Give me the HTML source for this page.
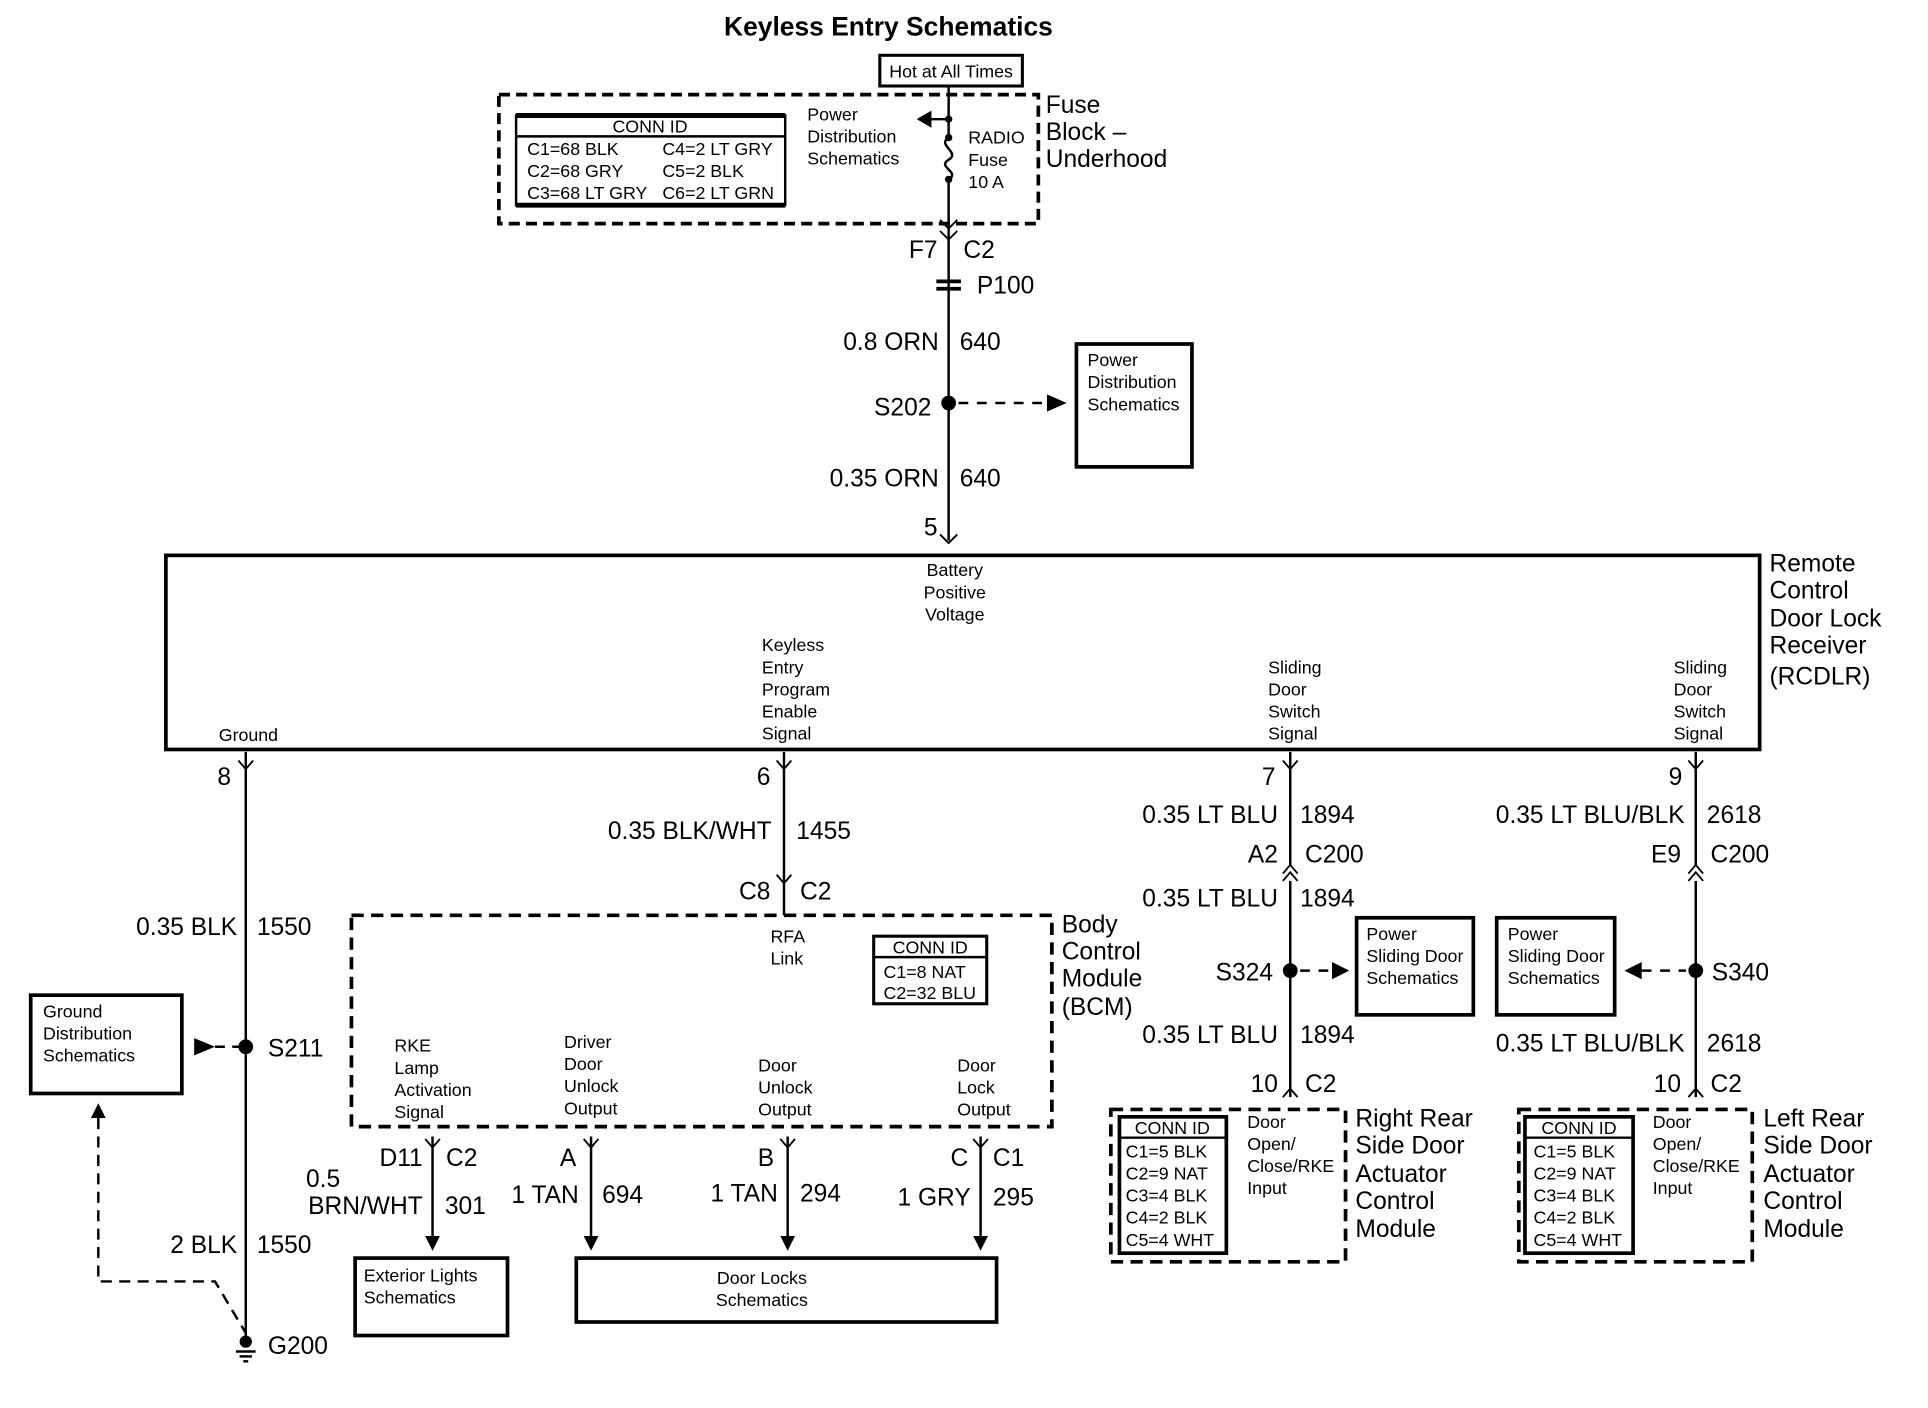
<!DOCTYPE html>
<html><head><meta charset="utf-8"><style>
html,body{margin:0;padding:0;background:#fff;}
svg{display:block;}
text{font-family:"Liberation Sans",Arial,sans-serif;fill:#000;}
.s{font-size:14.5px;}
.w{font-size:20px;}
.b{font-size:20px;}
.r{text-anchor:end;}
.c{text-anchor:middle;}
</style></head><body>
<svg width="1928" height="1408" viewBox="0 0 1569 1146" preserveAspectRatio="none" xmlns="http://www.w3.org/2000/svg">
<text x="723" y="29" class="c" style="font-size:21.5px;font-weight:bold">Keyless Entry Schematics</text>
<g stroke="#000" fill="none">
<rect x="716" y="45" width="116" height="25" stroke-width="2.5"/>
<rect x="406" y="77" width="439" height="105" stroke-width="3" stroke-dasharray="9,5"/>
<rect x="420" y="94" width="219" height="73" stroke-width="2"/>
<line x1="420" y1="94" x2="639" y2="94" stroke-width="4"/>
<line x1="420" y1="167" x2="639" y2="167" stroke-width="4"/>
<line x1="420" y1="111" x2="639" y2="111" stroke-width="2"/>
<line x1="772" y1="70" x2="772" y2="112" stroke-width="2"/>
<path d="M772 112 C 762 118, 782 124, 772 130 C 762 136, 782 140, 772 146" stroke-width="2"/>
<line x1="772" y1="146" x2="772" y2="440" stroke-width="2"/>
<line x1="772" y1="97" x2="756" y2="97" stroke-width="2"/>
<path d="M765 179 L772 186 L779 179 M765 188 L772 195 L779 188" stroke-width="1.5"/>
<path d="M765 435 L772 442 L779 435" stroke-width="1.5"/>
<line x1="762" y1="229" x2="782" y2="229" stroke-width="3"/>
<line x1="762" y1="235" x2="782" y2="235" stroke-width="3"/>
<line x1="780" y1="328" x2="852" y2="328" stroke-width="2" stroke-dasharray="8,7"/>
<rect x="876" y="280" width="94" height="100" stroke-width="3"/>
<rect x="135" y="452" width="1297" height="158" stroke-width="3"/>
<line x1="200" y1="612" x2="200" y2="1090" stroke-width="2"/>
<path d="M194 619 L200 626 L206 619" stroke-width="1.5"/>
<line x1="175" y1="852" x2="200" y2="852" stroke-width="2" stroke-dasharray="8,6"/>
<rect x="25" y="810" width="123" height="80" stroke-width="3"/>
<path d="M80 910 L80 1043 L175 1043 L200 1085" stroke-width="2" stroke-dasharray="9,6"/>
<line x1="192" y1="1100" x2="208" y2="1100" stroke-width="2"/>
<line x1="195" y1="1104" x2="205" y2="1104" stroke-width="2"/>
<line x1="198" y1="1108" x2="202" y2="1108" stroke-width="2"/>
<line x1="638" y1="612" x2="638" y2="745" stroke-width="2"/>
<path d="M632 619 L638 626 L644 619" stroke-width="1.5"/>
<path d="M632 712 L638 719 L644 712" stroke-width="1.5"/>
<rect x="286" y="745" width="570" height="172" stroke-width="3" stroke-dasharray="10,6"/>
<rect x="711" y="762" width="92" height="55" stroke-width="2.5"/>
<line x1="711" y1="779" x2="803" y2="779" stroke-width="2"/>
<line x1="352" y1="925" x2="352" y2="1008" stroke-width="2"/>
<line x1="481" y1="925" x2="481" y2="1008" stroke-width="2"/>
<line x1="641" y1="925" x2="641" y2="1008" stroke-width="2"/>
<line x1="798" y1="925" x2="798" y2="1008" stroke-width="2"/>
<path d="M346 927 L352 934 L358 927 M475 927 L481 934 L487 927 M635 927 L641 934 L647 927 M792 927 L798 934 L804 927" stroke-width="1.5"/>
<rect x="289" y="1024" width="124" height="63" stroke-width="3"/>
<rect x="469" y="1024" width="342" height="52" stroke-width="3"/>
<line x1="1050" y1="612" x2="1050" y2="893" stroke-width="2"/>
<path d="M1044 619 L1050 626 L1056 619" stroke-width="1.5"/>
<path d="M1044 711 L1050 704 L1056 711 M1044 717 L1050 710 L1056 717" stroke-width="1.5" fill="#fff"/>
<line x1="1058" y1="790" x2="1090" y2="790" stroke-width="2" stroke-dasharray="8,7"/>
<rect x="1104" y="747" width="95" height="79" stroke-width="3"/>
<path d="M1044 893 L1050 886 L1056 893" stroke-width="1.5"/>
<rect x="904" y="903" width="191" height="124" stroke-width="3" stroke-dasharray="10,6"/>
<rect x="911" y="909" width="87" height="111" stroke-width="3"/>
<line x1="911" y1="926" x2="998" y2="926" stroke-width="2"/>
<line x1="1380" y1="612" x2="1380" y2="893" stroke-width="2"/>
<path d="M1374 619 L1380 626 L1386 619" stroke-width="1.5"/>
<path d="M1374 711 L1380 704 L1386 711 M1374 717 L1380 710 L1386 717" stroke-width="1.5" fill="#fff"/>
<line x1="1336" y1="790" x2="1372" y2="790" stroke-width="2" stroke-dasharray="8,7"/>
<rect x="1218" y="747" width="96" height="79" stroke-width="3"/>
<path d="M1374 893 L1380 886 L1386 893" stroke-width="1.5"/>
<rect x="1236" y="903" width="190" height="124" stroke-width="3" stroke-dasharray="10,6"/>
<rect x="1241" y="909" width="88" height="111" stroke-width="3"/>
<line x1="1241" y1="926" x2="1329" y2="926" stroke-width="2"/>
</g>
<g fill="#000">
<circle cx="772" cy="97" r="3"/>
<circle cx="772" cy="112" r="3"/>
<circle cx="772" cy="146" r="3"/>
<polygon points="746,97 758,90 758,104"/>
<circle cx="772" cy="328" r="6"/>
<polygon points="868,328 852,321 852,335"/>
<circle cx="200" cy="852" r="6"/>
<polygon points="175,852 158,845 158,859"/>
<polygon points="80,898 74,910 86,910"/>
<circle cx="200" cy="1092" r="5"/>
<polygon points="352,1018 346,1006 358,1006"/>
<polygon points="481,1018 475,1006 487,1006"/>
<polygon points="641,1018 635,1006 647,1006"/>
<polygon points="798,1018 792,1006 804,1006"/>
<circle cx="1050" cy="790" r="6"/>
<polygon points="1098,790 1084,783 1084,797"/>
<circle cx="1380" cy="790" r="6"/>
<polygon points="1322,790 1336,783 1336,797"/>
</g>
<text x="774" y="63" class="s c">Hot at All Times</text>
<text x="529" y="108" class="s c">CONN ID</text>
<text x="429" y="126" class="s">C1=68 BLK</text><text x="539" y="126" class="s">C4=2 LT GRY</text>
<text x="429" y="144" class="s">C2=68 GRY</text><text x="539" y="144" class="s">C5=2 BLK</text>
<text x="429" y="162" class="s">C3=68 LT GRY</text><text x="539" y="162" class="s">C6=2 LT GRN</text>
<text x="657" y="98" class="s">Power</text><text x="657" y="116" class="s">Distribution</text><text x="657" y="134" class="s">Schematics</text>
<text x="788" y="117" class="s">RADIO</text><text x="788" y="135" class="s">Fuse</text><text x="788" y="153" class="s">10 A</text>
<text x="851" y="92" class="b">Fuse</text><text x="851" y="114" class="b">Block –</text><text x="851" y="136" class="b">Underhood</text>
<text x="763" y="210" class="w r">F7</text><text x="784" y="210" class="w">C2</text>
<text x="795" y="239" class="w">P100</text>
<text x="764" y="285" class="w r">0.8 ORN</text><text x="781" y="285" class="w">640</text>
<text x="758" y="338" class="w r">S202</text>
<text x="885" y="298" class="s">Power</text><text x="885" y="316" class="s">Distribution</text><text x="885" y="334" class="s">Schematics</text>
<text x="764" y="396" class="w r">0.35 ORN</text><text x="781" y="396" class="w">640</text>
<text x="763" y="436" class="w r">5</text>
<text x="777" y="469" class="s c">Battery</text><text x="777" y="487" class="s c">Positive</text><text x="777" y="505" class="s c">Voltage</text>
<text x="620" y="530" class="s">Keyless</text><text x="620" y="548" class="s">Entry</text><text x="620" y="566" class="s">Program</text><text x="620" y="584" class="s">Enable</text><text x="620" y="602" class="s">Signal</text>
<text x="1032" y="548" class="s">Sliding</text><text x="1032" y="566" class="s">Door</text><text x="1032" y="584" class="s">Switch</text><text x="1032" y="602" class="s">Signal</text>
<text x="1362" y="548" class="s">Sliding</text><text x="1362" y="566" class="s">Door</text><text x="1362" y="584" class="s">Switch</text><text x="1362" y="602" class="s">Signal</text>
<text x="178" y="603" class="s">Ground</text>
<text x="1440" y="465" class="b">Remote</text><text x="1440" y="487" class="b">Control</text><text x="1440" y="510" class="b">Door Lock</text><text x="1440" y="532" class="b">Receiver</text><text x="1440" y="557" class="b">(RCDLR)</text>
<text x="188" y="639" class="w r">8</text><text x="627" y="639" class="w r">6</text><text x="1038" y="639" class="w r">7</text><text x="1369" y="639" class="w r">9</text>
<text x="193" y="761" class="w r">0.35 BLK</text><text x="209" y="761" class="w">1550</text>
<text x="218" y="860" class="w">S211</text>
<text x="35" y="828" class="s">Ground</text><text x="35" y="846" class="s">Distribution</text><text x="35" y="864" class="s">Schematics</text>
<text x="193" y="1020" class="w r">2 BLK</text><text x="209" y="1020" class="w">1550</text>
<text x="218" y="1102" class="w">G200</text>
<text x="628" y="683" class="w r">0.35 BLK/WHT</text><text x="648" y="683" class="w">1455</text>
<text x="627" y="732" class="w r">C8</text><text x="651" y="732" class="w">C2</text>
<text x="627" y="767" class="s">RFA</text><text x="627" y="785" class="s">Link</text>
<text x="757" y="776" class="s c">CONN ID</text>
<text x="719" y="796" class="s">C1=8 NAT</text><text x="719" y="813" class="s">C2=32 BLU</text>
<text x="864" y="759" class="b">Body</text><text x="864" y="781" class="b">Control</text><text x="864" y="803" class="b">Module</text><text x="864" y="826" class="b">(BCM)</text>
<text x="321" y="856" class="s">RKE</text><text x="321" y="874" class="s">Lamp</text><text x="321" y="892" class="s">Activation</text><text x="321" y="910" class="s">Signal</text>
<text x="459" y="853" class="s">Driver</text><text x="459" y="871" class="s">Door</text><text x="459" y="889" class="s">Unlock</text><text x="459" y="907" class="s">Output</text>
<text x="617" y="872" class="s">Door</text><text x="617" y="890" class="s">Unlock</text><text x="617" y="908" class="s">Output</text>
<text x="779" y="872" class="s">Door</text><text x="779" y="890" class="s">Lock</text><text x="779" y="908" class="s">Output</text>
<text x="344" y="949" class="w r">D11</text><text x="363" y="949" class="w">C2</text>
<text x="469" y="949" class="w r">A</text>
<text x="630" y="949" class="w r">B</text>
<text x="788" y="949" class="w r">C</text><text x="808" y="949" class="w">C1</text>
<text x="249" y="966" class="w">0.5</text>
<text x="344" y="988" class="w r">BRN/WHT</text><text x="362" y="988" class="w">301</text>
<text x="471" y="979" class="w r">1 TAN</text><text x="490" y="979" class="w">694</text>
<text x="633" y="978" class="w r">1 TAN</text><text x="651" y="978" class="w">294</text>
<text x="790" y="981" class="w r">1 GRY</text><text x="808" y="981" class="w">295</text>
<text x="296" y="1043" class="s">Exterior Lights</text><text x="296" y="1061" class="s">Schematics</text>
<text x="620" y="1045" class="s c">Door Locks</text><text x="620" y="1063" class="s c">Schematics</text>
<text x="1040" y="670" class="w r">0.35 LT BLU</text><text x="1058" y="670" class="w">1894</text>
<text x="1040" y="702" class="w r">A2</text><text x="1062" y="702" class="w">C200</text>
<text x="1040" y="738" class="w r">0.35 LT BLU</text><text x="1058" y="738" class="w">1894</text>
<text x="1036" y="798" class="w r">S324</text>
<text x="1112" y="765" class="s">Power</text><text x="1112" y="783" class="s">Sliding Door</text><text x="1112" y="801" class="s">Schematics</text>
<text x="1040" y="849" class="w r">0.35 LT BLU</text><text x="1058" y="849" class="w">1894</text>
<text x="1040" y="889" class="w r">10</text><text x="1062" y="889" class="w">C2</text>
<text x="954" y="923" class="s c">CONN ID</text>
<text x="916" y="942" class="s">C1=5 BLK</text><text x="916" y="960" class="s">C2=9 NAT</text><text x="916" y="978" class="s">C3=4 BLK</text><text x="916" y="996" class="s">C4=2 BLK</text><text x="916" y="1014" class="s">C5=4 WHT</text>
<text x="1015" y="918" class="s">Door</text><text x="1015" y="936" class="s">Open/</text><text x="1015" y="954" class="s">Close/RKE</text><text x="1015" y="972" class="s">Input</text>
<text x="1103" y="917" class="b">Right Rear</text><text x="1103" y="939" class="b">Side Door</text><text x="1103" y="962" class="b">Actuator</text><text x="1103" y="984" class="b">Control</text><text x="1103" y="1007" class="b">Module</text>
<text x="1371" y="670" class="w r">0.35 LT BLU/BLK</text><text x="1389" y="670" class="w">2618</text>
<text x="1368" y="702" class="w r">E9</text><text x="1392" y="702" class="w">C200</text>
<text x="1393" y="798" class="w">S340</text>
<text x="1227" y="765" class="s">Power</text><text x="1227" y="783" class="s">Sliding Door</text><text x="1227" y="801" class="s">Schematics</text>
<text x="1371" y="856" class="w r">0.35 LT BLU/BLK</text><text x="1389" y="856" class="w">2618</text>
<text x="1368" y="889" class="w r">10</text><text x="1392" y="889" class="w">C2</text>
<text x="1285" y="923" class="s c">CONN ID</text>
<text x="1248" y="942" class="s">C1=5 BLK</text><text x="1248" y="960" class="s">C2=9 NAT</text><text x="1248" y="978" class="s">C3=4 BLK</text><text x="1248" y="996" class="s">C4=2 BLK</text><text x="1248" y="1014" class="s">C5=4 WHT</text>
<text x="1345" y="918" class="s">Door</text><text x="1345" y="936" class="s">Open/</text><text x="1345" y="954" class="s">Close/RKE</text><text x="1345" y="972" class="s">Input</text>
<text x="1435" y="917" class="b">Left Rear</text><text x="1435" y="939" class="b">Side Door</text><text x="1435" y="962" class="b">Actuator</text><text x="1435" y="984" class="b">Control</text><text x="1435" y="1007" class="b">Module</text>
</svg>
</body></html>
